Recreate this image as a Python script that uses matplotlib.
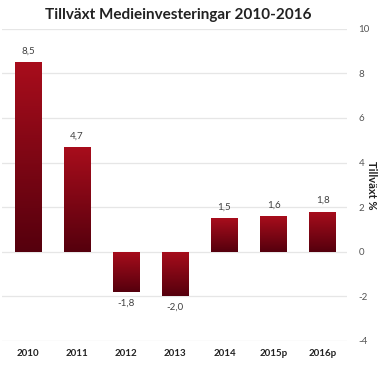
import matplotlib
matplotlib.use("Agg")
import matplotlib.pyplot as plt
import numpy as np
from matplotlib.colors import LinearSegmentedColormap

categories = ["2010", "2011", "2012", "2013", "2014", "2015p", "2016p"]
values = [8.5, 4.7, -1.8, -2.0, 1.5, 1.6, 1.8]
value_labels = ["8,5", "4,7", "-1,8", "-2,0", "1,5", "1,6", "1,8"]
yticks = [-4, -2, 0, 2, 4, 6, 8, 10]

plt.rcParams['font.family'] = ['Lato', 'DejaVu Sans']

fig = plt.figure(figsize=(3.8, 3.65), dpi=100)
ax = fig.add_axes([0.006, 0.066, 0.908, 0.855])

x = np.arange(len(categories))
bars = ax.bar(x, values, width=0.54, color="none", edgecolor="none", zorder=3)

cmap = LinearSegmentedColormap.from_list("rd", ["#a80d1c", "#55000d"])
grad = np.linspace(0, 1, 256).reshape(-1, 1)
for b in bars:
    x0, y0 = b.get_x(), b.get_y()
    w, h = b.get_width(), b.get_height()
    top = max(y0, y0 + h)
    bot = min(y0, y0 + h)
    im = ax.imshow(grad, cmap=cmap, aspect="auto", extent=[x0, x0 + w, bot, top],
                   origin="upper", zorder=3)
    im.set_clip_path(b)

for xi, v, lab in zip(x, values, value_labels):
    if v >= 0:
        ax.text(xi, v + 0.3, lab, ha="center", va="bottom", fontsize=7, color="#404040")
    else:
        ax.text(xi, v - 0.3, lab, ha="center", va="top", fontsize=7, color="#404040")

ax.set_xlim(-0.52, 6.5)
ax.set_ylim(-4, 10)
ax.set_yticks(yticks)
ax.set_yticklabels([str(t) for t in yticks], fontsize=7, color="#555555")
ax.yaxis.tick_right()
ax.yaxis.set_label_position("right")
ax.set_ylabel("Tillväxt %", rotation=-90, labelpad=5, fontsize=8, fontweight="bold", color="#222222")
ax.tick_params(axis="y", length=0, pad=8)
ax.set_xticks(x)
ax.set_xticklabels(categories, fontsize=7, fontweight="bold", color="#222222")
ax.tick_params(axis="x", length=0, pad=6)
ax.grid(axis="y", color="#e6e6e6", linewidth=0.9, zorder=0)
ax.set_axisbelow(True)
for s in ax.spines.values():
    s.set_visible(False)

fig.text(0.47, 0.958, "Tillväxt Medieinvesteringar 2010-2016", ha="center", va="center",
         fontsize=11, fontweight="bold", color="#222222")

fig.savefig("out.png", dpi=100)
